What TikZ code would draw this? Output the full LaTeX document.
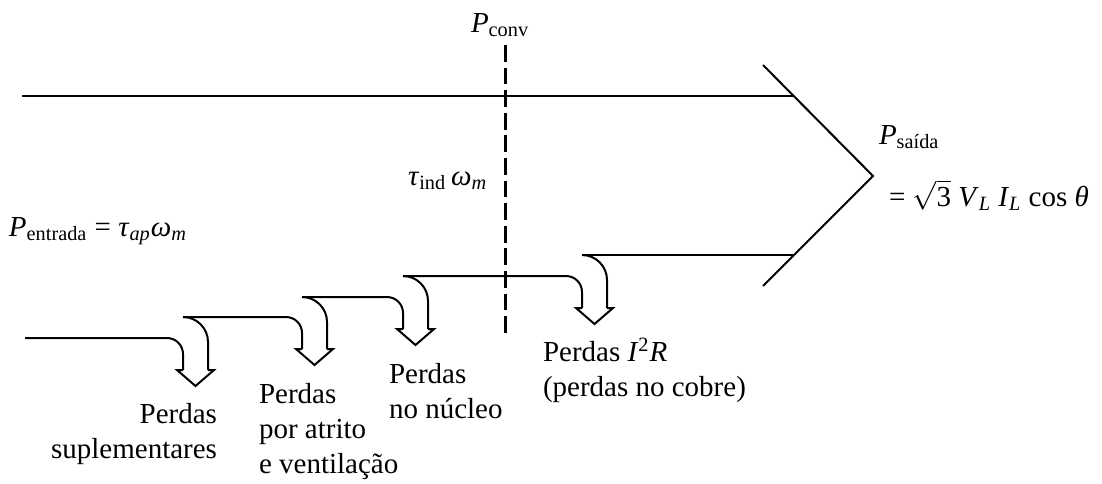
\documentclass[tikz,border=0pt]{standalone}
\usepackage{fontspec}
\setmainfont{Liberation Serif}
\begin{document}
\begin{tikzpicture}[x=0.5pt,y=-0.5pt,line width=1pt,font=\fontsize{14.5}{17.5}\selectfont,
    lbl/.style={inner sep=0pt,align=left}]
\useasboundingbox (0,0) rectangle (1102,483);
\coordinate (tip) at (873,176);
\draw(22,96)--(793,96);
\draw(582,255)--(793,255);
\draw(763,65)--(tip)--(763,286);
\draw[line width=1.4pt,dash pattern=on 8.4pt off 2.9pt](505.5,45)--(505.5,335);
\foreach \xl/\yl/\yu/\xs in {183/338/317/25, 302/317/297/183, 403/297/276/302, 582/276/255/403}
{
    \draw[rounded corners=8pt](\xs,\yl)--(\xl,\yl)--(\xl,\yl+32);
    \draw(\xl,\yl+32)--++(-6,0)--(\xl+12.5,\yl+48)--(\xl+31,\yl+32)--(\xl+25,\yl+32);
    \draw[rounded corners=12.5pt](\xl+25,\yl+32)--(\xl+25,\yu)--(\xl,\yu);
}
\node[lbl,anchor=base west](pconv) at (470,32){\textit{P}\textsubscript{conv}};
\node[lbl,anchor=base west](tind) at (407,185){\textit{τ}\textsubscript{ind}\,\textit{ω}\textsubscript{\textit{m}}};
\node[lbl,anchor=base west](pin) at (8,236){\textit{P}\textsubscript{entrada} = \textit{τ}\textsubscript{\textit{ap}}\textit{ω}\textsubscript{\textit{m}}};
\node[lbl,anchor=base west](pout) at (878,144){\textit{P}\textsubscript{saída}};
\node[lbl,anchor=base west](pouteq) at (888,206){= $\sqrt{\mbox{3}}$ \textit{V}\textsubscript{\textit{L}} \textit{I}\textsubscript{\textit{L}} cos \textit{θ}};
\node[lbl,align=right,anchor=north east](supl) at (218,402){Perdas\\suplementares};
\node[lbl,anchor=north west](atrito) at (258,382){Perdas\\por atrito\\e ventilação};
\node[lbl,anchor=north west](nucleo) at (388,362){Perdas\\no núcleo};
\node[lbl,anchor=north west](cobre) at (542,337){Perdas \textit{I}\textsuperscript{2}\textit{R}\\(perdas no cobre)};
\end{tikzpicture}
\end{document}
